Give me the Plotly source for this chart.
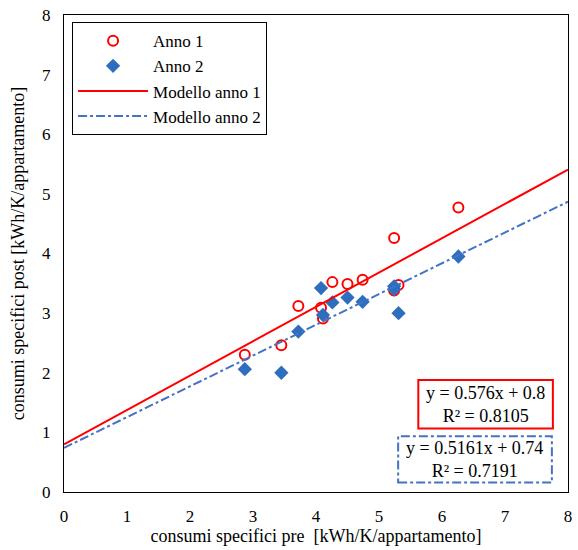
import plotly.graph_objects as go

x_pre = [2.87, 3.45, 3.72, 4.08, 4.11, 4.26, 4.50, 4.74, 5.24, 5.24, 5.31, 6.26]
y_anno1 = [2.30, 2.46, 3.12, 3.09, 2.91, 3.52, 3.49, 3.56, 4.26, 3.38, 3.47, 4.77]
x_pre2 = [2.87, 3.45, 3.72, 4.08, 4.11, 4.26, 4.50, 4.74, 5.24, 5.24, 5.31, 6.26]
y_anno2 = [2.06, 2.00, 2.69, 3.42, 2.97, 3.18, 3.26, 3.19, 3.45, 3.40, 3.00, 3.95]

slope1, icpt1 = 0.576, 0.8
slope2, icpt2 = 0.5161, 0.74
x_model = [0, 8]
y_model1 = [slope1 * v + icpt1 for v in x_model]
y_model2 = [slope2 * v + icpt2 for v in x_model]

eq1 = "y = 0.576x + 0.8<br>R² = 0.8105"
eq2 = "y = 0.5161x + 0.74<br>R² = 0.7191"

RED = "#FF0000"
BLUE_LINE = "#4472C4"
BLUE_PT = "#2E6EBF"
FONT = "Liberation Serif"

fig = go.Figure()
fig.add_trace(go.Scatter(x=x_pre, y=y_anno1, mode="markers", name="Anno 1",
                         marker=dict(symbol="circle-open", size=10, color=RED,
                                     line=dict(width=2, color=RED))))
fig.add_trace(go.Scatter(x=x_pre2, y=y_anno2, mode="markers", name="Anno 2",
                         marker=dict(symbol="diamond", size=11, color=BLUE_PT)))
fig.add_trace(go.Scatter(x=x_model, y=y_model1, mode="lines", name="Modello anno 1",
                         line=dict(color=RED, width=2)))
fig.add_trace(go.Scatter(x=x_model, y=y_model2, mode="lines", name="Modello anno 2",
                         line=dict(color=BLUE_LINE, width=2, dash="dashdot")))

axis_common = dict(range=[0, 8], dtick=1, showgrid=False, zeroline=False,
                   showline=True, linecolor="black", linewidth=1, mirror=True,
                   ticks="", ticklabelstandoff=9,
                   tickfont=dict(family=FONT, size=17, color="black"))

fig.update_layout(
    width=578, height=550,
    margin=dict(l=64, r=6, t=13, b=58),
    paper_bgcolor="white", plot_bgcolor="white",
    font=dict(family=FONT, size=17, color="black"),
    xaxis=dict(**axis_common,
               title=dict(text="consumi specifici pre  [kWh/K/appartamento]",
                          font=dict(family=FONT, size=18), standoff=2)),
    yaxis=dict(**axis_common,
               title=dict(text="consumi specifici post [kWh/K/appartamento]",
                          font=dict(family=FONT, size=18), standoff=12)),
    legend=dict(x=0.016, y=0.985, xanchor="left", yanchor="top",
                bgcolor="white", bordercolor="black", borderwidth=1,
                font=dict(family=FONT, size=17), tracegroupgap=0,
                itemwidth=70, traceorder="normal"),
    shapes=[
        dict(type="rect", xref="paper", yref="paper",
             x0=0.703, x1=0.970, y0=0.133, y1=0.235,
             line=dict(color=RED, width=2), layer="above"),
        dict(type="rect", xref="paper", yref="paper",
             x0=0.663, x1=0.968, y0=0.020, y1=0.117,
             line=dict(color=BLUE_LINE, width=2, dash="dashdot"), layer="above"),
    ],
    annotations=[
        dict(text=eq1, xref="paper", yref="paper", x=0.836, y=0.184,
             xanchor="center", yanchor="middle",
             showarrow=False, font=dict(family=FONT, size=18, color="black"),
             align="center"),
        dict(text=eq2, xref="paper", yref="paper", x=0.815, y=0.068,
             xanchor="center", yanchor="middle",
             showarrow=False, font=dict(family=FONT, size=18, color="black"),
             align="center"),
    ],
)

fig.write_html("out.html")
